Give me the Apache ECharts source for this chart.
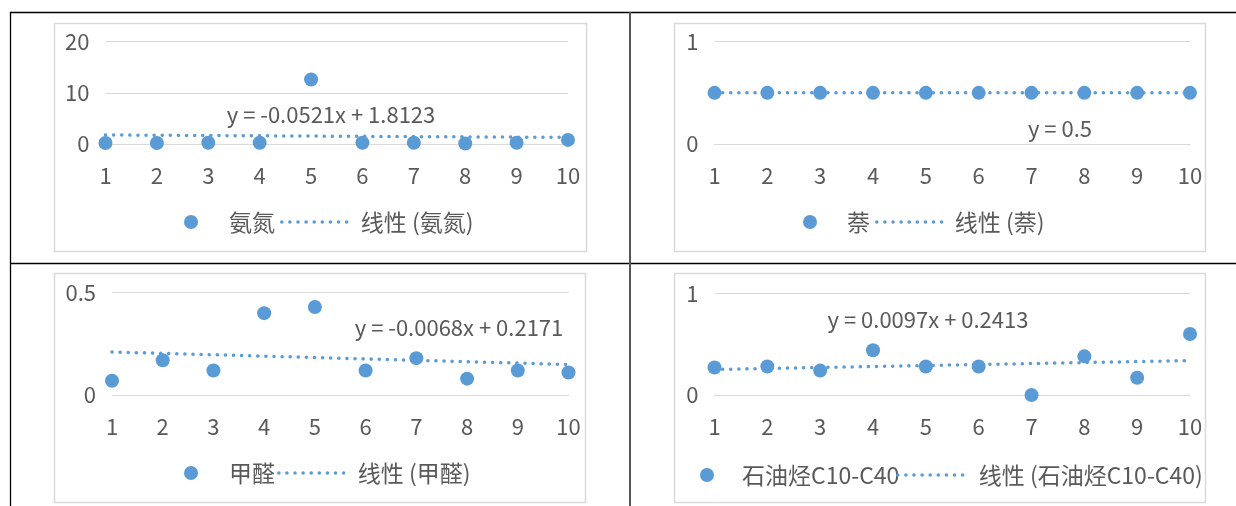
<!DOCTYPE html>
<html>
<head>
<meta charset="utf-8">
<script src="https://cdn.jsdelivr.net/npm/echarts@6/dist/echarts.min.js"></script>
<style>
html,body{margin:0;padding:0;background:#fff;}
#main{width:1236px;height:506px;}
</style>
</head>
<body>
<div id="main"></div>
<script>
// ---- data ----
const xValues = [1, 2, 3, 4, 5, 6, 7, 8, 9, 10];
const seriesNames = ['氨氮', '萘', '甲醛', '石油烃C10-C40'];
const ammoniaValues = [0.2, 0.2, 0.25, 0.25, 12.6, 0.25, 0.25, 0.1, 0.25, 0.8];
const naphthaleneValues = [0.5, 0.5, 0.5, 0.5, 0.5, 0.5, 0.5, 0.5, 0.5, 0.5];
const formaldehydeValues = [0.07, 0.17, 0.12, 0.40, 0.43, 0.12, 0.18, 0.08, 0.12, 0.11];
const tphValues = [0.27, 0.28, 0.24, 0.44, 0.28, 0.28, 0.0, 0.38, 0.17, 0.60];
const trendSlopes = [-0.0521, 0, -0.0068, 0.0097];
const trendIntercepts = [1.8123, 0.5, 0.2171, 0.2413];
const equationLabels = ['y = -0.0521x + 1.8123', 'y = 0.5', 'y = -0.0068x + 0.2171', 'y = 0.0097x + 0.2413'];
const yMaxes = [20, 1, 0.5, 1];
const yIntervals = [10, 1, 0.5, 1];
const xMin = 1, xMax = 10, xInterval = 1;

const allValues = [ammoniaValues, naphthaleneValues, formaldehydeValues, tphValues];

// ---- layout / style ----
const BLUE = '#5b9bd5';
const TEXT = '#595959';
const GRID = '#d9d9d9';
const FONT = '"Noto Sans CJK SC", "Open Sans", sans-serif';

const grids = [
  {left: 105.5, top: 41.7, width: 462.5, height: 102.3},
  {left: 714.5, top: 41.7, width: 475.5, height: 102.3},
  {left: 112, top: 292.7, width: 456.5, height: 102.3},
  {left: 714.5, top: 293.3, width: 475.5, height: 101.7}
];
const boxes = [
  {x: 54.5, y: 23.5, width: 532, height: 228},
  {x: 674.5, y: 23.5, width: 531, height: 228},
  {x: 54.5, y: 273.5, width: 531, height: 229},
  {x: 674.5, y: 273.5, width: 531, height: 229}
];
const eqPos = [[331, 115], [1060, 128.5], [459, 327.5], [928, 320]];
// legend: [circle center x, circle text start, dots start, dots end, center y]
const legendPos = [
  [191, 229, 280, 350, 222],
  [810, 847, 875, 944, 222],
  [191, 229, 277, 347, 473],
  [707, 742, 896, 968, 475]
];

const option = {
  animation: false,
  backgroundColor: '#fff',
  textStyle: {fontFamily: FONT},
  grid: grids.map(g => Object.assign({containLabel: false}, g)),
  xAxis: grids.map((g, i) => ({
    type: 'value', gridIndex: i, min: xMin, max: xMax, interval: xInterval,
    axisLine: {show: true, lineStyle: {color: GRID, width: 1}},
    axisTick: {show: false},
    splitLine: {show: false},
    axisLabel: {color: TEXT, fontSize: 22, fontFamily: FONT, margin: 21}
  })),
  yAxis: grids.map((g, i) => ({
    type: 'value', gridIndex: i, min: 0, max: yMaxes[i], interval: yIntervals[i],
    axisLine: {show: false}, axisTick: {show: false},
    splitLine: {show: true, lineStyle: {color: GRID, width: 1}},
    axisLabel: {color: TEXT, fontSize: 22, fontFamily: FONT, margin: 16}
  })),
  legend: [],
  series: [],
  graphic: []
};

for (let i = 0; i < 4; i++) {
  const name = seriesNames[i];
  const trendName = '线性 (' + name + ')';
  option.series.push({
    name: name, type: 'scatter', xAxisIndex: i, yAxisIndex: i,
    symbol: 'circle', symbolSize: 14,
    itemStyle: {color: BLUE, opacity: 1},
    data: xValues.map((x, k) => [x, allValues[i][k]]),
    z: 3
  });
  option.series.push({
    name: trendName, type: 'line', xAxisIndex: i, yAxisIndex: i,
    symbol: 'none', silent: true,
    lineStyle: {color: BLUE, width: 3.5, type: [0.1, 8], cap: 'round'},
    itemStyle: {color: BLUE},
    data: [xMin, xMax].map(x => [x, trendIntercepts[i] + trendSlopes[i] * x]),
    z: 2
  });
  const lp = legendPos[i];
  const wCircle = 2 * (lp[1] - 5 - lp[0]);
  option.legend.push({
    data: [{name: name, icon: 'circle'}],
    left: lp[0] - 7, top: lp[4] - 11.5, padding: 0,
    itemWidth: wCircle, itemHeight: 14, itemGap: 0,
    textStyle: {color: TEXT, fontSize: 23, fontFamily: FONT},
    selectedMode: false
  });
  option.legend.push({
    data: [{name: trendName}],
    left: lp[2], top: lp[4] - 11.5, padding: 0,
    itemWidth: lp[3] - lp[2], itemHeight: 14, itemGap: 0,
    itemStyle: {opacity: 0},
    lineStyle: {width: 3.5, color: BLUE, type: [0.1, 8], cap: 'round'},
    textStyle: {color: TEXT, fontSize: 23, fontFamily: FONT, padding: [0, 0, 0, 4]},
    selectedMode: false
  });
  option.graphic.push({
    type: 'rect', silent: true, z: -1,
    shape: boxes[i],
    style: {fill: 'none', stroke: GRID, lineWidth: 1.5}
  });
  option.graphic.push({
    type: 'text', silent: true,
    x: eqPos[i][0], y: eqPos[i][1],
    style: {text: equationLabels[i], fill: TEXT, font: '22px ' + FONT, align: 'center', verticalAlign: 'middle'}
  });
}

// table frame lines
option.graphic.push(
  {type: 'line', silent: true, shape: {x1: 10, y1: 12.5, x2: 1236, y2: 12.5}, style: {stroke: '#000', lineWidth: 1.3}},
  {type: 'line', silent: true, shape: {x1: 10.5, y1: 12, x2: 10.5, y2: 506}, style: {stroke: '#000', lineWidth: 1.3}},
  {type: 'line', silent: true, shape: {x1: 10, y1: 263.5, x2: 1236, y2: 263.5}, style: {stroke: '#000', lineWidth: 1.3}},
  {type: 'line', silent: true, shape: {x1: 630, y1: 12, x2: 630, y2: 506}, style: {stroke: '#555', lineWidth: 2}}
);

const chart = echarts.init(document.getElementById('main'), null, {renderer: 'canvas'});
chart.setOption(option);
</script>
</body>
</html>
